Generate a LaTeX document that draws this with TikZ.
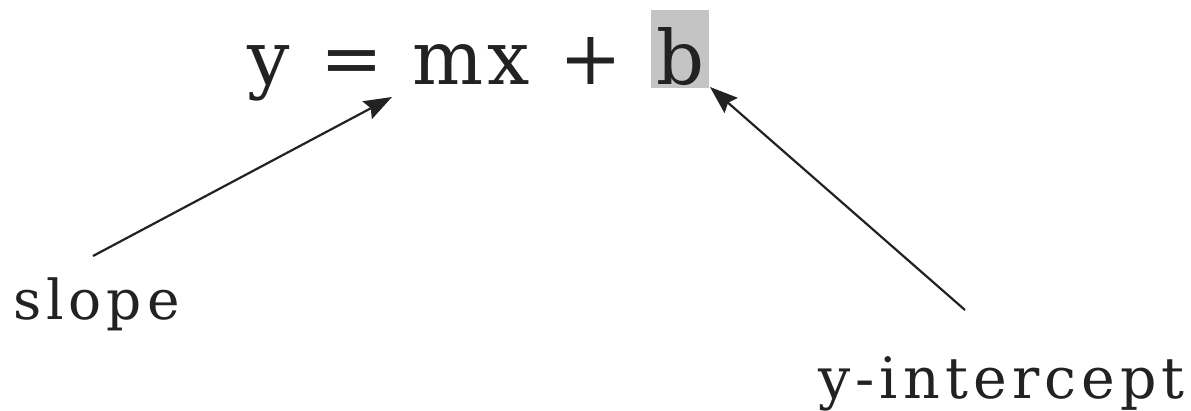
\documentclass[tikz,border=0pt]{standalone}
\usepackage{fontspec}
\setmainfont{DejaVu Serif}[LetterSpace=9]
\newfontfamily\eqfont{DejaVu Serif}[LetterSpace=4]
\usetikzlibrary{arrows.meta}
\definecolor{ink}{HTML}{222222}
\definecolor{hl}{HTML}{C4C4C4}
\tikzset{
  eqtext/.style={inner sep=0pt, text=ink, font=\eqfont\fontsize{75}{90}\selectfont},
  lbl/.style={inner sep=0pt, text=ink, font=\fontsize{55}{66}\selectfont},
  pointer/.style={draw=ink, line width=2.2pt, -{Stealth[length=28pt,width=20pt,inset=4pt]}},
}
\begin{document}
\begin{tikzpicture}[x=1pt,y=-1pt]
\useasboundingbox (0,0) rectangle (1191,411);
\node[eqtext, anchor=base west] (eq) at (247,85) {y\hspace{31pt}=\hspace{29pt}m\hspace{4pt}x\hspace{30pt}+};
\node[eqtext, fill=hl, anchor=base, inner xsep=5pt, text height=75pt, text depth=3pt] (b) at (680,85) {b};
\node[lbl, anchor=base west] (slope) at (13,320) {slope};
\node[lbl, font=\fontsize{57}{68}\selectfont, anchor=base west] (yint) at (818,398) {y-intercept};
\coordinate (s1) at (93,256);
\coordinate (s2) at (392,97);
\coordinate (y1) at (965,310);
\coordinate (y2) at (710,87);
\draw[pointer] (s1) -- (s2);
\draw[pointer] (y1) -- (y2);
\end{tikzpicture}
\end{document}
